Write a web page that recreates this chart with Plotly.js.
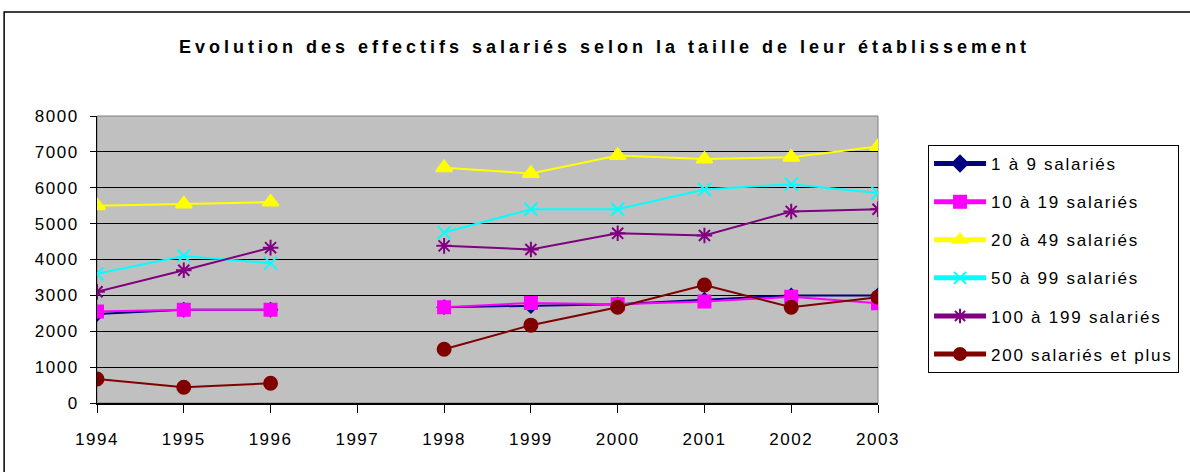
<!DOCTYPE html>
<html><head><meta charset="utf-8">
<script src="https://cdn.plot.ly/plotly-3.0.1.min.js"></script>
<style>
body{margin:0;background:#fff;}
.xtick text,.ytick text{letter-spacing:1.5px;}
.legendtext{letter-spacing:1.75px;}
.gtitle{letter-spacing:4px;}
</style>
</head><body>
<div id="chart" style="width:1190px;height:472px;"></div>
<script>
const years = [1994, 1995, 1996, 1997, 1998, 1999, 2000, 2001, 2002, 2003];
const seriesNames = ["1 à 9 salariés", "10 à 19 salariés", "20 à 49 salariés", "50 à 99 salariés", "100 à 199 salariés", "200 salariés et plus"];
const s1a9 =    [2480, 2600, 2600, null, 2670, 2700, 2750, 2880, 3000, 3000];
const s10a19 =  [2550, 2600, 2600, null, 2670, 2790, 2750, 2830, 2960, 2780];
const s20a49 =  [5500, 5550, 5600, null, 6560, 6400, 6900, 6800, 6850, 7150];
const s50a99 =  [3600, 4100, 3900, null, 4750, 5400, 5400, 5950, 6100, 5850];
const s100a199 =[3100, 3700, 4330, null, 4380, 4280, 4730, 4670, 5340, 5400];
const s200plus =[670, 440, 550, null, 1500, 2170, 2670, 3290, 2670, 2950];
const yTicks = [0, 1000, 2000, 3000, 4000, 5000, 6000, 7000, 8000];

const values = [s1a9, s10a19, s20a49, s50a99, s100a199, s200plus];
const colors = ["#000080", "#FF00FF", "#FFFF00", "#00FFFF", "#800080", "#800000"];
const symbols = ["diamond", "square", "triangle-up", "x-thin-open", "asterisk-open", "circle"];
const sizes = [10, 12, 14, 13, 13, 13];

const traces = values.map((v, i) => ({
  x: years, y: v, name: seriesNames[i], type: "scatter", mode: "lines+markers",
  legendgroup: "g" + i,
  line: {color: colors[i], width: 2},
  marker: {symbol: symbols[i], size: sizes[i], color: colors[i], line: {color: colors[i], width: 2}},
  connectgaps: false
}));

const font = {family: "'Liberation Sans', Arial, sans-serif", size: 17, color: "#000"};

const layout = {
  width: 1190, height: 472,
  margin: {l: 97, r: 311, t: 116, b: 69},
  paper_bgcolor: "#fff", plot_bgcolor: "#C0C0C0",
  font: font,
  title: {text: "<b>Evolution des effectifs salariés selon la taille de leur établissement</b>",
    font: {family: font.family, size: 18, color: "#000"},
    x: 0.508, xanchor: "center", y: 0.902, yanchor: "middle", yref: "container"},
  xaxis: {range: [1994, 2003], tickvals: years, ticktext: years.map(String), showgrid: false,
    ticks: "outside", ticklen: 8, tickcolor: "#000", showline: true, linecolor: "#000", linewidth: 2,
    ticklabelstandoff: 12, zeroline: false, fixedrange: true},
  yaxis: {range: [0, 8000], tickvals: yTicks, showgrid: true, gridcolor: "#000", gridwidth: 1,
    ticks: "outside", ticklen: 6, tickcolor: "#000", showline: true, linecolor: "#000", linewidth: 1,
    ticklabelstandoff: 8, zeroline: false, fixedrange: true},
  legend: {x: 1.0627, xanchor: "left", y: 0.899, yanchor: "top", bgcolor: "#fff",
    bordercolor: "#000", borderwidth: 1, font: {family: font.family, size: 17, color: "#000"},
    traceorder: "grouped", tracegroupgap: 13, itemwidth: 52, itemsizing: "constant"},
  shapes: [
    {type: "rect", xref: "paper", yref: "paper", x0: 0, x1: 1, y0: 0, y1: 1, line: {color: "#808080", width: 1}, layer: "below"},
    {type: "rect", xref: "paper", yref: "paper", x0: -0.1189, x1: 1.5, y0: -0.5, y1: 1.362, line: {color: "#000", width: 1.5}}
  ],
  showlegend: true
};

Plotly.newPlot("chart", traces, layout, {displayModeBar: false, staticPlot: true});
</script>
</body></html>
